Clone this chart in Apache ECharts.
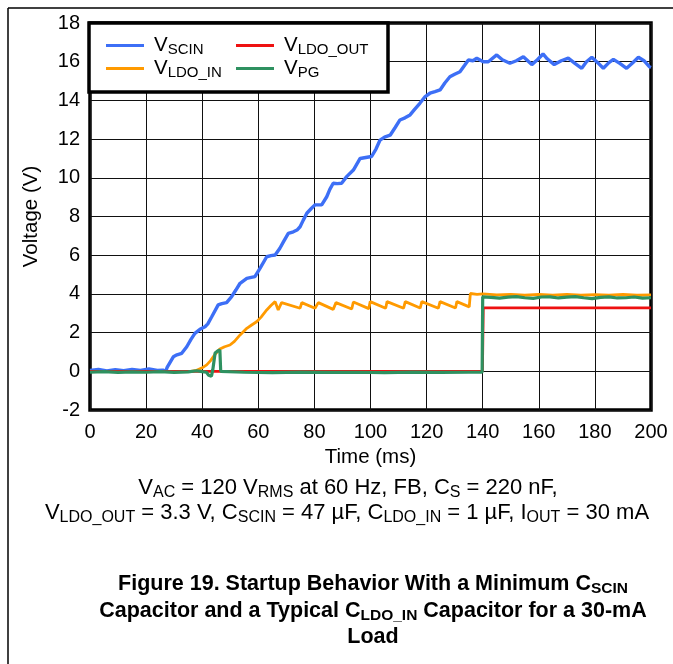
<!DOCTYPE html>
<html>
<head>
<meta charset="utf-8">
<script src="https://cdn.jsdelivr.net/npm/echarts@6/dist/echarts.min.js"></script>
<style>
html,body{margin:0;padding:0;background:#fff;}
#c{width:673px;height:664px;}
</style>
</head>
<body>
<div id="c"></div>
<script>
// ---- data (time in ms, voltage in V) ----
const xTicks = [0, 20, 40, 60, 80, 100, 120, 140, 160, 180, 200];
const yTicks = [-2, 0, 2, 4, 6, 8, 10, 12, 14, 16, 18];

const vScin = [
[0,0.05],[3,0.1],[6,0.02],[9,0.08],[12,0.03],[15,0.1],[18,0.05],[21,0.12],[24,0.04],[26,0.06],[27,0.0],
[27.5,0.2],[29.7,0.75],[31,0.85],[32.7,0.93],[34.5,1.27],[36,1.65],[37.4,1.96],[39.2,2.17],[41,2.3],[42,2.45],
[43.4,2.82],[45.7,3.43],[47,3.5],[48.7,3.55],[50.5,3.86],[52,4.2],[53.5,4.55],[55.9,4.8],[57.5,4.85],[58.8,4.89],
[60.6,5.32],[63,5.92],[64.5,5.98],[66,6.01],[67.7,6.36],[69,6.7],[70.7,7.13],[72.5,7.21],[73.8,7.3],[74.9,7.47],
[76,7.8],[77.3,8.17],[78.8,8.4],[80.2,8.6],[82.6,8.6],[84.4,9.02],[85.5,9.4],[86.7,9.72],[88.2,9.7],[89.7,9.72],
[91.5,10.06],[93.9,10.4],[96.3,11.0],[98.3,11.05],[100.4,11.1],[102,11.5],[103.4,11.95],[105,12.1],[107,12.2],
[108.8,12.6],[110.5,12.99],[112.3,13.1],[114.1,13.25],[115.8,13.55],[117.6,13.85],[119.5,14.2],[121.2,14.37],
[123,14.45],[124.8,14.54],[126.5,14.9],[128.3,15.22],[130,15.35],[131.9,15.48],[133.5,15.8],[134.9,16.09],
[136.5,16.05],[137.9,16.18],[140.2,16.0],[142,16.0],[145,16.35],[147,16.1],[149.7,15.92],[152,16.05],[154.5,16.26],
[157.5,15.85],[159.5,16.1],[161.5,16.4],[163,16.15],[165.5,15.85],[168,16.05],[170.5,16.18],[173,15.9],[175.3,15.66],
[177,16.0],[178.9,16.23],[181,15.95],[183,15.66],[185,15.95],[186.6,16.12],[189,15.9],[191.3,15.66],[193.5,15.95],
[195.5,16.23],[197.5,16.05],[199.4,15.74],[200,15.7]
];

const vLdoIn = [
[0,0.0],[10,0.0],[20,0.0],[30,0.0],[36,0.0],[38,0.05],[40,0.18],[41.6,0.33],[43,0.55],[44,0.76],[45,0.95],
[46.3,1.15],[48,1.27],[49.9,1.36],[51.5,1.55],[53.5,1.88],[55.9,2.22],[57.5,2.38],[59.4,2.56],[61,2.8],[63,3.17],
[64.5,3.4],[66,3.6],[67.1,3.17],[68.3,3.55],[74.9,3.26],[75.5,3.55],[80.2,3.26],[81.4,3.55],[86.7,3.2],[87.7,3.55],
[93.3,3.22],[93.9,3.58],[99.4,3.24],[99.9,3.6],[105.4,3.26],[105.9,3.6],[111.8,3.26],[112.4,3.6],[117.7,3.27],
[118.3,3.6],[124.2,3.26],[124.8,3.6],[130.3,3.27],[130.8,3.6],[135.2,3.33],[135.6,4.02],[138,3.98],[140,4.0],
[145,3.95],[150,3.97],[155,3.93],[160,3.98],[165,3.94],[170,3.97],[175,3.93],[180,3.96],[185,3.94],[190,3.97],
[195,3.93],[200,3.95]
];

const vLdoOut = [
[0,0],[20,0],[40,0],[60,0],[100,0],[139.9,0],[140.2,3.28],[160,3.28],[180,3.28],[200,3.28]
];

const vPg = [
[0,-0.05],[5,-0.02],[10,-0.06],[15,-0.03],[20,-0.05],[25,-0.02],[30,-0.06],[35,-0.03],[38,0.03],[40,-0.02],
[41.5,-0.05],[42.3,-0.2],[43.3,-0.25],[43.8,0.1],[44.6,0.95],[45.5,1.05],[46.3,1.1],[46.6,0.0],[47,-0.05],
[55,-0.05],[65,-0.07],[75,-0.04],[85,-0.06],[95,-0.05],[105,-0.07],[115,-0.04],[125,-0.06],[135,-0.05],
[139.8,-0.05],[140,3.85],[143,3.82],[146,3.78],[149,3.83],[152,3.86],[155,3.8],[158,3.77],[161,3.84],[164,3.85],
[167,3.79],[170,3.83],[173,3.86],[176,3.8],[179,3.76],[182,3.82],[185,3.85],[188,3.79],[191,3.8],[194,3.84],
[197,3.78],[200,3.8]
];

const seriesNames = ['VSCIN', 'VLDO_IN', 'VLDO_OUT', 'VPG'];
const seriesColors = ['#3d6ff6', '#ff9a00', '#ee1111', '#2e9160'];
const legendLabels = {
  'VSCIN': '{f|V}{s|SCIN}',
  'VLDO_IN': '{f|V}{s|LDO_IN}',
  'VLDO_OUT': '{f|V}{s|LDO_OUT}',
  'VPG': '{f|V}{s|PG}'
};

const FONT = 'Liberation Sans, Arial, Helvetica, sans-serif';

const chart = echarts.init(document.getElementById('c'), null, {renderer: 'canvas'});

const legendRich = {
  f: {fontSize: 20.5, fontFamily: FONT, color: '#000', lineHeight: 24, padding: [0, 0, 0, 5]},
  s: {fontSize: 15, fontFamily: FONT, color: '#000', lineHeight: 13, verticalAlign: 'bottom'}
};
function mkLegend(name, left, top) {
  return {
    data: [name], left: left, top: top, padding: 0, icon: 'rect',
    itemWidth: 38, itemHeight: 3, selectedMode: false, z: 20,
    formatter: n => legendLabels[n],
    textStyle: {rich: legendRich}
  };
}

const capRich = {
  n: {fontSize: 22, fontFamily: FONT, fill: '#000', lineHeight: 26},
  s: {fontSize: 16, fontFamily: FONT, fill: '#000', lineHeight: 14, verticalAlign: 'bottom'},
  b: {fontSize: 21.5, fontFamily: FONT, fontWeight: 'bold', fill: '#000', lineHeight: 26},
  bs: {fontSize: 15.5, fontFamily: FONT, fontWeight: 'bold', fill: '#000', lineHeight: 14, verticalAlign: 'bottom'}
};
function capText(text, x, y) {
  return {type: 'text', x: x, y: y, z: 30,
    style: {text: text, textAlign: 'center', textVerticalAlign: 'middle', rich: capRich}};
}

const option = {
  animation: false,
  backgroundColor: '#fff',
  grid: {left: 90, top: 23, right: 22, bottom: 254, show: true, borderColor: '#000', borderWidth: 3.5, backgroundColor: 'transparent'},
  xAxis: {
    type: 'value', min: xTicks[0], max: xTicks[xTicks.length - 1], interval: 20,
    name: 'Time (ms)', nameLocation: 'middle', nameGap: 35,
    nameTextStyle: {fontSize: 20.5, fontFamily: FONT, color: '#000'},
    axisLine: {show: false}, axisTick: {show: false},
    axisLabel: {fontSize: 20, fontFamily: FONT, color: '#000', margin: 12},
    splitLine: {show: true, lineStyle: {color: '#111', width: 1}}
  },
  yAxis: {
    type: 'value', min: yTicks[0], max: yTicks[yTicks.length - 1], interval: 2,
    name: 'Voltage (V)', nameLocation: 'middle', nameGap: 48,
    nameTextStyle: {fontSize: 20.5, fontFamily: FONT, color: '#000'},
    axisLine: {show: false}, axisTick: {show: false},
    axisLabel: {fontSize: 20, fontFamily: FONT, color: '#000', margin: 10},
    splitLine: {show: true, lineStyle: {color: '#111', width: 1}}
  },
  legend: [
    mkLegend('VSCIN', 106, 35),
    mkLegend('VLDO_IN', 106, 58),
    mkLegend('VLDO_OUT', 236, 35),
    mkLegend('VPG', 236, 58)
  ],
  series: [
    {name: 'VSCIN', type: 'line', data: vScin, showSymbol: false, lineStyle: {width: 3.4, color: seriesColors[0]}, itemStyle: {color: seriesColors[0]}, z: 2},
    {name: 'VLDO_IN', type: 'line', data: vLdoIn, showSymbol: false, lineStyle: {width: 2.8, color: seriesColors[1]}, itemStyle: {color: seriesColors[1]}, z: 3},
    {name: 'VLDO_OUT', type: 'line', data: vLdoOut, showSymbol: false, lineStyle: {width: 2.8, color: seriesColors[2]}, itemStyle: {color: seriesColors[2]}, z: 4},
    {name: 'VPG', type: 'line', data: vPg, showSymbol: false, lineStyle: {width: 3.2, color: seriesColors[3]}, itemStyle: {color: seriesColors[3]}, z: 5}
  ],
  graphic: [
    {type: 'line', z: 30, shape: {x1: 8, y1: 8, x2: 673, y2: 8}, style: {stroke: '#000', lineWidth: 1.5}},
    {type: 'line', z: 30, shape: {x1: 8, y1: 8, x2: 8, y2: 664}, style: {stroke: '#000', lineWidth: 1.5}},
    {type: 'rect', z: 10, shape: {x: 89, y: 23, width: 299, height: 69}, style: {fill: '#fff', stroke: '#000', lineWidth: 3.5}},
    capText('{n|V}{s|AC}{n| = 120 V}{s|RMS}{n| at 60 Hz, FB, C}{s|S}{n| = 220 nF,}', 348, 488),
    capText('{n|V}{s|LDO_OUT}{n| = 3.3 V, C}{s|SCIN}{n| = 47 µF, C}{s|LDO_IN}{n| = 1 µF, I}{s|OUT}{n| = 30 mA}', 347, 513),
    capText('{b|Figure 19. Startup Behavior With a Minimum C}{bs|SCIN}', 373, 584),
    capText('{b|Capacitor and a Typical C}{bs|LDO_IN}{b| Capacitor for a 30-mA}', 373, 611),
    capText('{b|Load}', 373, 637)
  ]
};
chart.setOption(option);
</script>
</body>
</html>
